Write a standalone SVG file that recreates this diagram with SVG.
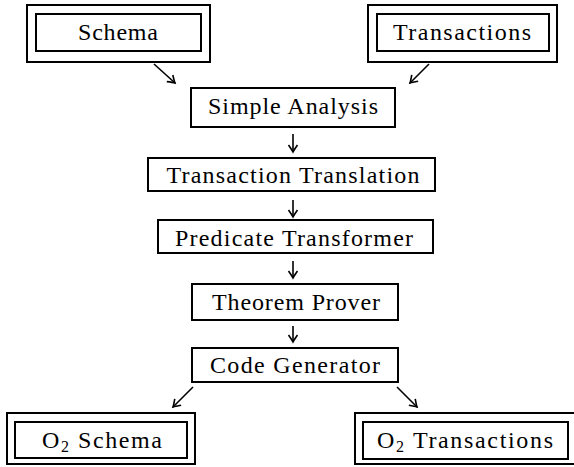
<svg xmlns="http://www.w3.org/2000/svg" width="574" height="467" viewBox="0 0 574 467">
<style>
.box{fill:#fff;stroke:#000;stroke-width:2}
.lbl{font-family:"Liberation Serif","Times New Roman",serif;font-size:24px;fill:#000;text-anchor:middle}
.sub{font-size:16px}
.conn{fill:none;stroke:#000;stroke-width:1.6;marker-end:url(#ah)}
</style>
<defs>
<marker id="ah" markerUnits="userSpaceOnUse" viewBox="-9 -6 11 12" refX="0" refY="0" markerWidth="11" markerHeight="12" orient="auto">
<path d="M-7,-4.5 Q-2,-1 0,0 Q-2,1 -7,4.5" fill="none" stroke="#000" stroke-width="1.6"/>
</marker>
</defs>
<rect width="574" height="467" fill="#fff"/>
<g id="connectors">
<line class="conn" x1="154" y1="64" x2="175" y2="83"/>
<line class="conn" x1="429" y1="64" x2="410" y2="83"/>
<line class="conn" x1="293" y1="134" x2="293" y2="152"/>
<line class="conn" x1="293" y1="200" x2="293" y2="217"/>
<line class="conn" x1="293" y1="261" x2="293" y2="278"/>
<line class="conn" x1="293" y1="326" x2="293" y2="342"/>
<line class="conn" x1="193" y1="387" x2="173" y2="407"/>
<line class="conn" x1="397" y1="387" x2="417" y2="407"/>
</g>
<g id="schema">
<rect class="box" x="27" y="5" width="183" height="57"/>
<rect class="box" x="36" y="14" width="165" height="37"/>
<text class="lbl" x="118" y="40" textLength="80">Schema</text>
</g>
<g id="transactions">
<rect class="box" x="368" y="5" width="189" height="57"/>
<rect class="box" x="377" y="14" width="172" height="37"/>
<text class="lbl" x="462" y="40" textLength="138">Transactions</text>
</g>
<g id="simple-analysis">
<rect class="box" x="191" y="88" width="204" height="39"/>
<text class="lbl" x="293" y="114" textLength="170">Simple Analysis</text>
</g>
<g id="transaction-translation">
<rect class="box" x="148" y="158" width="287" height="33"/>
<text class="lbl" x="293" y="183" textLength="253">Transaction Translation</text>
</g>
<g id="predicate-transformer">
<rect class="box" x="158" y="220" width="275" height="33"/>
<text class="lbl" x="294" y="246" textLength="238">Predicate Transformer</text>
</g>
<g id="theorem-prover">
<rect class="box" x="192" y="284" width="206" height="36"/>
<text class="lbl" x="296" y="310" textLength="168">Theorem Prover</text>
</g>
<g id="code-generator">
<rect class="box" x="192" y="348" width="206" height="34"/>
<text class="lbl" x="295" y="373" textLength="170">Code Generator</text>
</g>
<g id="o2-schema">
<rect class="box" x="7" y="413" width="188" height="51"/>
<rect class="box" x="15" y="422" width="172" height="36"/>
<text class="lbl" x="102" y="448" textLength="120">O<tspan class="sub" dy="4">2</tspan><tspan dy="-4"> Schema</tspan></text>
</g>
<g id="o2-transactions">
<rect class="box" x="355" y="413" width="222" height="51"/>
<rect class="box" x="363" y="422" width="205" height="37"/>
<text class="lbl" x="465" y="448" textLength="176">O<tspan class="sub" dy="4">2</tspan><tspan dy="-4"> Transactions</tspan></text>
</g>
</svg>
